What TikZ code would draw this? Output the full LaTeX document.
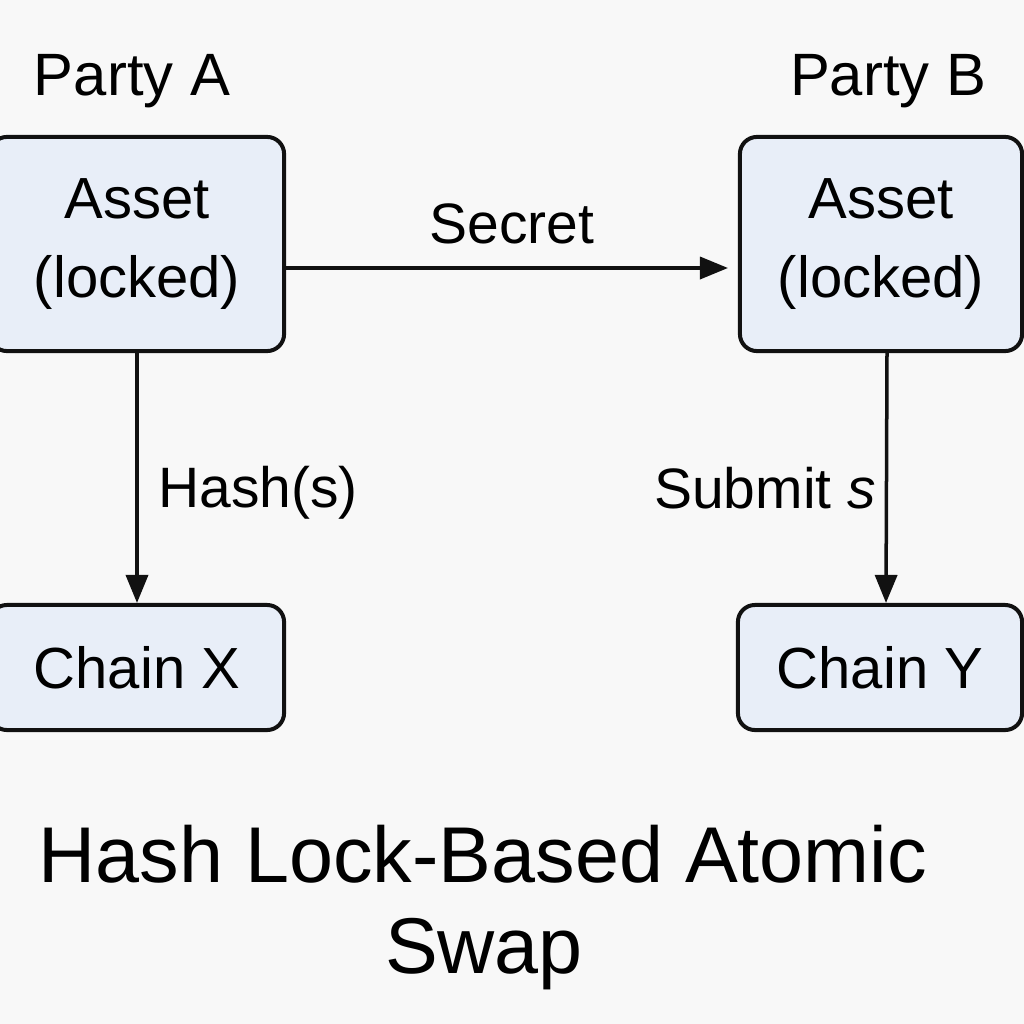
\documentclass[tikz,border=0pt]{standalone}
\usepackage{fontspec}
\setmainfont{Liberation Sans}
\usetikzlibrary{arrows.meta,positioning}
\definecolor{bgcol}{RGB}{248,248,248}
\definecolor{boxfill}{RGB}{232,238,248}
\definecolor{ink}{RGB}{17,17,17}
\tikzset{
  asset/.style={draw=ink,fill=boxfill,line width=0.04cm,rounded corners=0.17cm,align=center,font=\fontsize{16.5}{22.5}\selectfont},
  flow/.style={draw=ink,line width=0.035cm,-{Triangle[length=0.28cm,width=0.22cm]}},
  party/.style={font=\fontsize{17}{20}\selectfont},
  lbl/.style={font=\fontsize{16.2}{19}\selectfont},
  ttl/.style={font=\fontsize{22.5}{26}\selectfont}
}
\begin{document}
\begin{tikzpicture}[x=0.01cm,y=-0.01cm]
  \clip (0,0) rectangle (1024,1024);
  \fill[bgcol] (0,0) rectangle (1024,1024);
  % parties
  \node[party,anchor=base] (pa) at (132,95) {Party A};
  \node[party,anchor=base] (pb) at (888,95) {Party B};
  % boxes
  \node[asset,minimum width=2.94cm,minimum height=2.14cm] (A) at (137,244) {Asset\\(locked)};
  \node[asset,minimum width=2.82cm,minimum height=2.14cm] (B) at (881,244) {Asset\\(locked)};
  \node[asset,minimum width=2.94cm,minimum height=1.25cm] (CX) at (137,667.5) {Chain X};
  \node[asset,minimum width=2.84cm,minimum height=1.25cm] (CY) at (880,667.5) {Chain Y};
  % connectors
  \coordinate (sEnd) at (728,268);
  \draw[flow] (A.east |- sEnd) -- (sEnd);
  \draw[flow] (A.south) -- (CX.north);
  \draw[flow] ([xshift=0.06cm]B.south) -- ([xshift=0.06cm]CY.north);
  \node[lbl,anchor=base] (sec) at (512,243) {Secret};
  \node[lbl,anchor=base] (hs) at (258,507) {Hash(s)};
  \node[lbl,anchor=base] (sub) at (765,508) {Submit \textit{s}};
  % title
  \node[ttl,anchor=base] (t1) at (483,882) {Hash Lock-Based Atomic};
  \node[ttl,anchor=base] (t2) at (484,973) {Swap};
\end{tikzpicture}
\end{document}
